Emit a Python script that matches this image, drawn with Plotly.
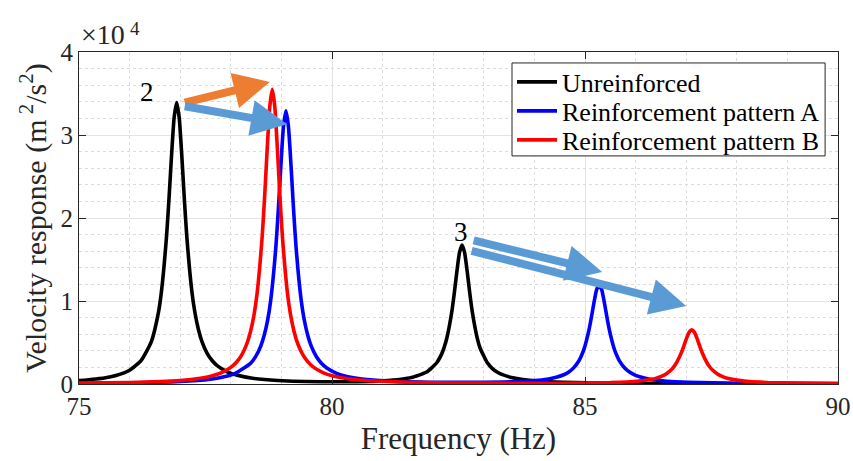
import plotly.graph_objects as go

# Frequency sweep points (Hz) and velocity response (m^2/s^2) for each configuration
freq_unreinforced = [75, 75.5, 75.73, 76, 76.23, 76.43, 76.57, 76.63, 76.73, 76.78, 76.83, 76.88, 76.93,
                     76.98, 77.03, 77.08, 77.13, 77.23, 77.29, 77.36, 77.43, 77.53, 77.63, 77.73, 77.93,
                     78.13, 78.43, 78.93, 79.93, 80.5, 81, 81.37, 81.57, 81.87, 82.07, 82.17, 82.21,
                     82.27, 82.37, 82.42, 82.47, 82.52, 82.57, 82.62, 82.67, 82.72, 82.77, 82.87, 82.93,
                     83.07, 83.17, 83.27, 83.37, 83.57, 83.77, 84.07, 84.57, 85.57, 86.57, 88, 90]
resp_unreinforced = [410, 730, 1025, 1660, 2840, 5100, 8630, 11170, 17790, 22460, 27650, 32090, 33920,
                     32100, 27660, 22470, 17800, 11180, 8640, 6560, 5110, 3720, 2830, 2220, 1470,
                     1050, 690, 425, 270, 290, 380, 566, 770, 1440, 2560, 3660, 4290,
                     5540, 8800, 11100, 13660, 15850, 16750, 15850, 13660, 11100, 8790, 5530, 4280,
                     2550, 1860, 1420, 1120, 745, 535, 355, 212, 107, 66, 37, 22]

freq_pattern_a = [75, 76, 77, 77.6, 77.89, 78.09, 78.39, 78.49, 78.59, 78.66, 78.73, 78.79, 78.89,
                  78.94, 78.99, 79.04, 79.09, 79.14, 79.19, 79.24, 79.29, 79.39, 79.45, 79.52, 79.59,
                  79.69, 79.79, 79.89, 80.09, 80.29, 80.59, 81.09, 82.09, 83, 83.8, 84.08, 84.28,
                  84.58, 84.68, 84.78, 84.88, 84.92, 84.98, 85.08, 85.13, 85.18, 85.23, 85.28, 85.33,
                  85.38, 85.43, 85.48, 85.58, 85.64, 85.68, 85.78, 85.88, 85.98, 86.08, 86.28, 86.48,
                  86.78, 87.28, 88.28, 90]
resp_pattern_a = [84, 143, 307, 591, 900, 1277, 2490, 3300, 4540, 5870, 7760, 10140, 16460,
                  21070, 26330, 30970, 32910, 30970, 26330, 21070, 16460, 10150, 7770, 5880, 4560,
                  3310, 2500, 1955, 1287, 910, 600, 354, 201, 196, 316, 440, 600,
                  1115, 1455, 1973, 2800, 3280, 4200, 6560, 8160, 9900, 11360, 11940, 11360,
                  9900, 8160, 6560, 4190, 3270, 2790, 1965, 1445, 1105, 870, 580, 420,
                  278, 167, 84, 40]

freq_pattern_b = [75, 76, 77, 77.4, 77.62, 77.82, 78.02, 78.12, 78.22, 78.32, 78.39, 78.46, 78.52,
                  78.62, 78.67, 78.72, 78.77, 78.82, 78.87, 78.92, 78.97, 79.02, 79.12, 79.18, 79.25,
                  79.32, 79.42, 79.52, 79.62, 79.82, 80.02, 80.32, 80.82, 81.82, 83, 84.5, 85.5,
                  85.91, 86.11, 86.31, 86.41, 86.51, 86.61, 86.71, 86.75, 86.81, 86.91, 86.96, 87.01,
                  87.06, 87.11, 87.16, 87.21, 87.26, 87.31, 87.41, 87.47, 87.51, 87.61, 87.71, 87.81,
                  87.91, 88.11, 88.31, 88.61, 89.2, 90]
resp_pattern_b = [100, 180, 425, 692, 960, 1370, 2090, 2680, 3550, 4900, 6320, 8380, 10930,
                  17750, 22720, 28400, 33410, 35510, 33410, 28400, 22720, 17760, 10940, 8390, 6330,
                  4910, 3560, 2690, 2094, 1374, 967, 628, 360, 168, 103, 98, 173,
                  280, 382, 563, 710, 923, 1245, 1745, 2024, 2564, 3864, 4694, 5564,
                  6254, 6524, 6250, 5560, 4690, 3860, 2560, 2020, 1740, 1240, 918, 700,
                  558, 375, 275, 179, 100, 58]

series_names = ["Unreinforced", "Reinforcement pattern A", "Reinforcement pattern B"]
series_colors = ["#000000", "#0000ff", "#ff0000"]

y_tick_values = [0, 10000, 20000, 30000, 40000]
y_tick_labels = ["0", "1", "2", "3", "4"]
x_tick_values = [75, 80, 85, 90]

# Mode shift arrows: (tail freq, tail resp, tip freq, tip resp, colour)
mode_arrows = [
    (77.06, 33860, 78.77, 36400, "#ed7d31"),
    (77.06, 33500, 79.11, 31300, "#5b9bd5"),
    (82.77, 17350, 85.34, 13500, "#5b9bd5"),
    (82.73, 16100, 87.00, 9400, "#5b9bd5"),
]
mode_labels = [("2", 76.34, 35200), ("3", 82.55, 18300)]

FONT = "Liberation Serif"
INK = "#262626"

fig = go.Figure()
legend_ids = ["legend", "legend2", "legend3"]
for xs, ys, name, color, lg in zip(
    [freq_unreinforced, freq_pattern_a, freq_pattern_b],
    [resp_unreinforced, resp_pattern_a, resp_pattern_b],
    series_names, series_colors, legend_ids,
):
    fig.add_trace(go.Scatter(x=xs, y=ys, mode="lines", name=name, legend=lg,
                             line=dict(color=color, width=3.6, shape="spline", smoothing=0.5)))

for tx, ty, hx, hy, col in mode_arrows:
    fig.add_annotation(x=hx, y=hy, ax=tx, ay=ty, xref="x", yref="y", axref="x", ayref="y",
                       text="", showarrow=True, arrowhead=2, arrowsize=0.9, arrowwidth=8,
                       arrowcolor=col)

for txt, lx, ly in mode_labels:
    fig.add_annotation(x=lx, y=ly, xref="x", yref="y", text=txt, showarrow=False,
                       font=dict(family=FONT, size=27, color="black"))

# Axis exponent label
fig.add_annotation(x=0, y=1, xref="paper", yref="paper", xanchor="left", yanchor="bottom",
                   xshift=0, yshift=0, text="×10", showarrow=False,
                   font=dict(family=FONT, size=28, color=INK))
fig.add_annotation(x=0, y=1, xref="paper", yref="paper", xanchor="left", yanchor="bottom",
                   xshift=49, yshift=11, text="4", showarrow=False,
                   font=dict(family=FONT, size=19, color=INK))

axis_common = dict(
    showline=True, linecolor=INK, linewidth=1, mirror="ticks",
    ticks="inside", ticklen=7, tickcolor=INK,
    showgrid=True, gridcolor="#e3e3e3", gridwidth=1,
    zeroline=False, automargin=False,
    tickfont=dict(family=FONT, size=25, color=INK),
)

fig.update_xaxes(
    range=[75, 90], tickmode="array", tickvals=x_tick_values,
    minor=dict(dtick=1, showgrid=True, gridcolor="#dcdcdc", griddash="dot", ticks=""),
    title=dict(text="Frequency (Hz)", font=dict(family=FONT, size=31, color=INK), standoff=8),
    **axis_common,
)
fig.update_yaxes(
    range=[0, 40000], tickmode="array", tickvals=y_tick_values, ticktext=y_tick_labels,
    minor=dict(dtick=2000, showgrid=True, gridcolor="#dcdcdc", griddash="dot", ticks=""),
    title=dict(text="Velocity response (m<sup> 2</sup>/s<sup>2</sup>)",
               font=dict(family=FONT, size=30, color=INK), standoff=5),
    **axis_common,
)

# Legend frame (paper coords); entries are placed one per row inside it
legend_box = dict(x0=0.5705, x1=0.983, y0=0.687, y1=0.967)
legend_rows = [0.9096, 0.8223, 0.7349]
fig.add_shape(type="rect", xref="paper", yref="paper", layer="above",
              fillcolor="white", line=dict(color=INK, width=1), **legend_box)

legend_style = dict(x=legend_box["x0"], xanchor="left", yanchor="middle",
                    bgcolor="rgba(0,0,0,0)", borderwidth=0,
                    font=dict(family=FONT, size=26, color="black"), itemwidth=40)

fig.update_layout(
    width=853, height=461,
    margin=dict(l=79, r=15, t=52, b=77),
    paper_bgcolor="white", plot_bgcolor="white",
    showlegend=True,
    legend=dict(y=legend_rows[0], **legend_style),
    legend2=dict(y=legend_rows[1], **legend_style),
    legend3=dict(y=legend_rows[2], **legend_style),
)

fig.write_html("out.html")
